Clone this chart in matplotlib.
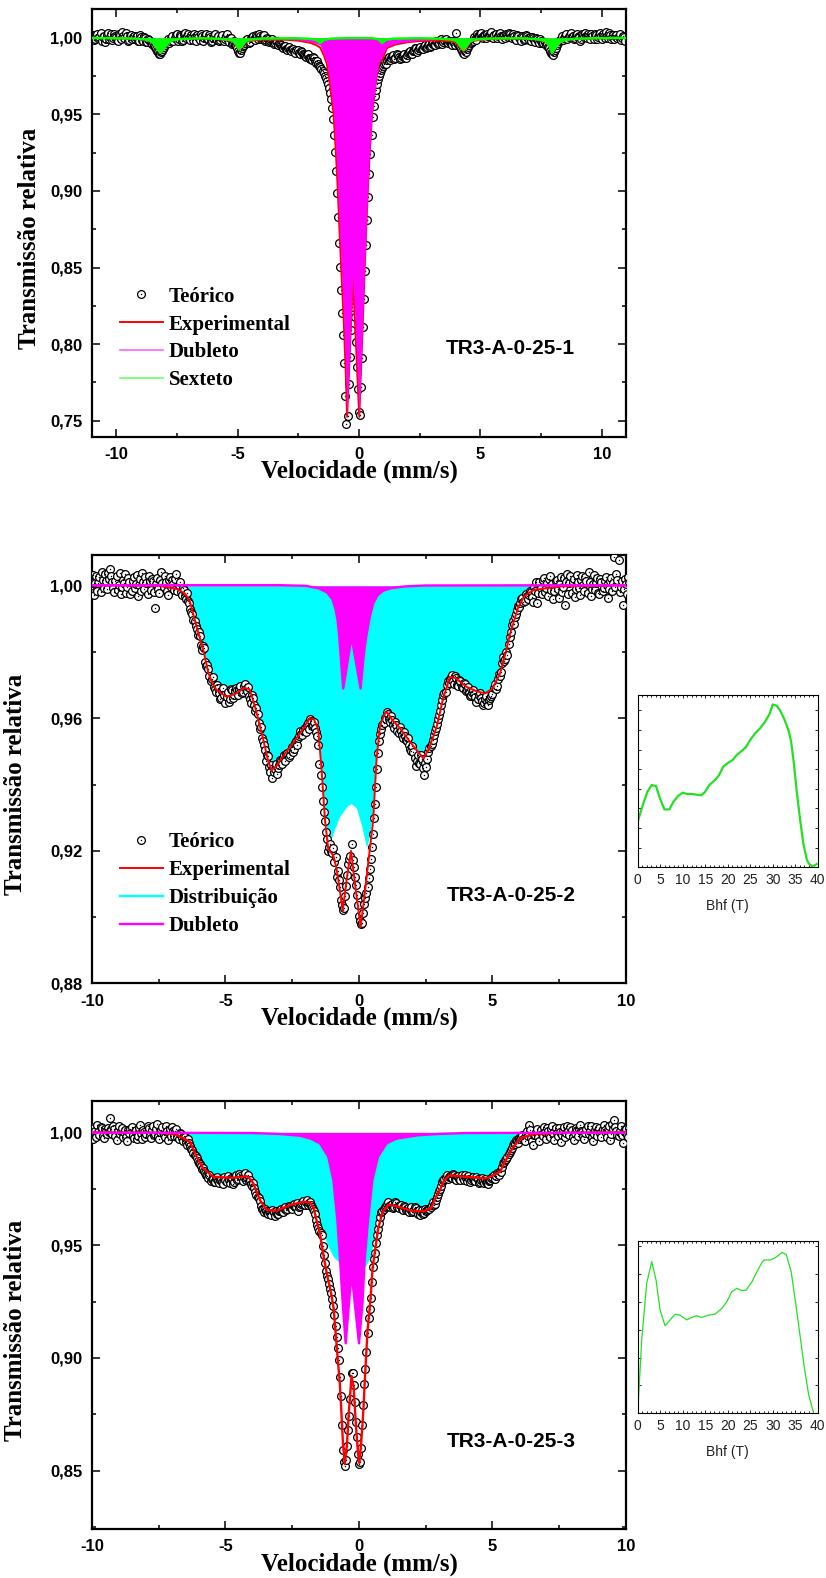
import numpy as np
import matplotlib
matplotlib.use('Agg')
import matplotlib.pyplot as plt
from matplotlib.ticker import MultipleLocator
from matplotlib.font_manager import FontProperties

# ======================= DATA =======================
# ---- Panel 1 : TR3-A-0-25-1 ----
t1 = [1.0018, 0.9982, 0.9989, 1.0019, 1.0025, 0.9995, 1.0004, 1.0028, 0.9978, 1.0001, 1.0012, 0.9973, 0.9992, 1.0016, 1.0031, 0.9990, 1.0007, 1.0024, 0.9985, 0.9998,
      1.0022, 1.0010, 1.0001, 0.9984, 0.9975, 1.0027, 1.0015, 0.9993, 1.0034, 1.0012, 0.9996, 1.0029, 1.0009, 0.9977, 0.9982, 1.0014, 1.0020, 0.9991, 1.0003, 1.0008,
      0.9990, 1.0007, 1.0012, 0.9975, 0.9981, 1.0019, 1.0006, 0.9986, 0.9977, 1.0004, 0.9995, 0.9972, 0.9969, 0.9990, 0.9985, 0.9965, 0.9958, 0.9970, 0.9944, 0.9938,
      0.9925, 0.9912, 0.9908, 0.9893, 0.9896, 0.9909, 0.9915, 0.9928, 0.9941, 0.9950, 0.9962, 0.9975, 0.9988, 0.9968, 0.9979, 0.9995, 1.0010, 0.9981, 0.9996, 1.0015,
      1.0024, 0.9981, 0.9993, 1.0017, 1.0008, 0.9976, 0.9984, 1.0022, 1.0030, 0.9995, 1.0012, 1.0027, 0.9997, 0.9983, 1.0019, 1.0003, 0.9986, 1.0026, 1.0005, 0.9979,
      1.0016, 1.0001, 0.9982, 1.0024, 1.0009, 0.9978, 0.9995, 1.0011, 1.0021, 0.9993, 0.9988, 1.0018, 1.0004, 0.9969, 0.9976, 0.9998, 1.0013, 1.0027, 0.9991, 0.9985,
      1.0009, 0.9975, 0.9983, 1.0004, 1.0018, 0.9979, 0.9990, 1.0012, 1.0025, 0.9989, 0.9972, 0.9998, 0.9995, 0.9961, 0.9966, 0.9978, 0.9952, 0.9944, 0.9930, 0.9911,
      0.9903, 0.9898, 0.9921, 0.9935, 0.9944, 0.9951, 0.9962, 0.9983, 0.9989, 0.9965, 0.9971, 0.9996, 1.0006, 1.0014, 0.9992, 0.9985, 1.0018, 1.0009, 0.9994, 1.0021,
      1.0013, 0.9990, 0.9998, 1.0008, 1.0017, 0.9979, 0.9985, 0.9996, 0.9992, 0.9970, 0.9976, 0.9983, 0.9989, 0.9958, 0.9968, 0.9975, 0.9981, 0.9950, 0.9962, 0.9957,
      0.9952, 0.9940, 0.9931, 0.9945, 0.9947, 0.9928, 0.9922, 0.9934, 0.9938, 0.9919, 0.9915, 0.9926, 0.9929, 0.9911, 0.9903, 0.9917, 0.9921, 0.9900, 0.9895, 0.9912,
      0.9908, 0.9893, 0.9884, 0.9880, 0.9872, 0.9885, 0.9891, 0.9870, 0.9861, 0.9866, 0.9852, 0.9875, 0.9868, 0.9845, 0.9837, 0.9849, 0.9826, 0.9815, 0.9808, 0.9797,
      0.9782, 0.9770, 0.9751, 0.9738, 0.9718, 0.9698, 0.9672, 0.9640, 0.9598, 0.9540, 0.9468, 0.9368, 0.9252, 0.9130, 0.8985, 0.8830, 0.8662, 0.8505, 0.8351, 0.8200,
      0.8062, 0.7880, 0.7660, 0.7480, 0.7530, 0.7740, 0.7918, 0.8090, 0.8241, 0.8340, 0.8290, 0.8180, 0.8012, 0.7850, 0.7705, 0.7560, 0.7540, 0.7720, 0.7908, 0.8110,
      0.8295, 0.8480, 0.8648, 0.8810, 0.8962, 0.9110, 0.9238, 0.9365, 0.9481, 0.9555, 0.9617, 0.9660, 0.9695, 0.9728, 0.9752, 0.9771, 0.9788, 0.9800, 0.9812, 0.9826,
      0.9838, 0.9829, 0.9851, 0.9866, 0.9872, 0.9855, 0.9864, 0.9880, 0.9885, 0.9862, 0.9870, 0.9893, 0.9889, 0.9875, 0.9861, 0.9870, 0.9878, 0.9884, 0.9893, 0.9866,
      0.9870, 0.9889, 0.9902, 0.9908, 0.9915, 0.9893, 0.9896, 0.9912, 0.9921, 0.9930, 0.9935, 0.9907, 0.9918, 0.9935, 0.9942, 0.9925, 0.9929, 0.9946, 0.9951, 0.9934,
      0.9938, 0.9955, 0.9960, 0.9942, 0.9947, 0.9965, 0.9972, 0.9950, 0.9955, 0.9976, 0.9981, 0.9960, 0.9966, 0.9983, 0.9988, 0.9958, 0.9970, 0.9985, 0.9993, 0.9972,
      0.9962, 0.9981, 0.9975, 0.9960, 0.9951, 0.9977, 0.9968, 0.9955, 1.0028, 0.9966, 0.9957, 0.9948, 0.9938, 0.9926, 0.9915, 0.9902, 0.9896, 0.9912, 0.9908, 0.9929,
      0.9938, 0.9951, 0.9962, 0.9970, 0.9979, 1.0002, 0.9993, 0.9985, 1.0021, 1.0011, 1.0008, 1.0026, 1.0032, 1.0005, 0.9996, 1.0020, 1.0015, 0.9998, 1.0027, 1.0009,
      1.0012, 1.0022, 1.0035, 1.0006, 0.9998, 1.0016, 1.0024, 0.9995, 1.0009, 1.0027, 1.0030, 1.0011, 0.9993, 1.0008, 1.0017, 0.9997, 1.0026, 1.0015, 1.0004, 1.0029,
      1.0021, 1.0006, 0.9995, 1.0024, 1.0013, 0.9992, 0.9986, 1.0017, 1.0008, 0.9990, 0.9979, 1.0014, 1.0002, 0.9983, 0.9990, 1.0020, 1.0011, 0.9995, 0.9983, 1.0007,
      0.9978, 1.0004, 0.9996, 0.9983, 0.9970, 0.9999, 0.9988, 0.9976, 0.9965, 0.9990, 0.9979, 0.9968, 0.9962, 0.9972, 0.9951, 0.9958, 0.9940, 0.9932, 0.9915, 0.9902,
      0.9893, 0.9890, 0.9905, 0.9918, 0.9930, 0.9949, 0.9968, 0.9975, 0.9985, 0.9993, 1.0010, 0.9982, 0.9996, 1.0013, 1.0022, 0.9990, 1.0005, 1.0018, 1.0030, 1.0003,
      1.0014, 0.9989, 0.9998, 1.0017, 1.0026, 1.0003, 1.0008, 0.9981, 0.9992, 1.0025, 1.0019, 1.0006, 1.0031, 1.0012, 0.9995, 1.0027, 1.0012, 0.9993, 1.0024, 1.0010,
      0.9993, 1.0025, 1.0016, 0.9990, 1.0003, 1.0019, 1.0028, 1.0009, 0.9989, 1.0022, 1.0011, 0.9996, 1.0035, 1.0014, 0.9997, 1.0028, 1.0020, 0.9988, 1.0006, 1.0017,
      0.9992, 1.0008, 1.0018, 0.9996, 1.0003, 1.0021, 0.9985, 0.9999, 1.0013, 1.0004, 0.9975]
v1 = np.linspace(-10.95, 10.95, len(t1))   # velocity channels

exp1_x = [-11, -9.2, -8.8, -8.6, -8.45, -8.3, -8.19, -8.05, -7.9, -7.7, -7.4, -6.5, -5.8,
          -5.4, -5.2, -5.05, -4.94, -4.8, -4.65, -4.4, -4.0, -3.0, -2.5, -2.0, -1.75, -1.6,
          -1.45, -1.32, -1.18, -1.05, -0.95, -0.88, -0.81, -0.73, -0.63, -0.55, -0.49, -0.25,
          0.01, 0.08, 0.16, 0.23, 0.30, 0.37, 0.44, 0.54, 0.67, 0.81, 0.95, 1.15, 1.5, 2.0,
          2.5, 3.35, 3.8, 4.0, 4.15, 4.31, 4.45, 4.6, 4.85, 5.3, 6.6, 7.2, 7.5, 7.7, 7.85,
          7.95, 8.1, 8.3, 8.5, 8.9, 10, 11]
exp1_y = [0.9997, 0.9993, 0.9987, 0.9979, 0.9959, 0.9924, 0.9901, 0.9924, 0.9959, 0.9981,
          0.9990, 0.9994, 0.9990, 0.9982, 0.9975, 0.9950, 0.9919, 0.9944, 0.9974, 0.9981,
          0.9986, 0.9986, 0.9980, 0.9966, 0.9950, 0.9935, 0.9885, 0.9826, 0.9675, 0.9505,
          0.9243, 0.9026, 0.8765, 0.8483, 0.8156, 0.7829, 0.7525, 0.8440, 0.7525, 0.7829,
          0.8156, 0.8483, 0.8765, 0.9026, 0.9244, 0.9506, 0.9678, 0.9830, 0.9855, 0.9932,
          0.9955, 0.9970, 0.9978, 0.9981, 0.9976, 0.9969, 0.9940, 0.9909, 0.9940, 0.9972,
          0.9983, 0.9989, 0.9993, 0.9989, 0.9982, 0.9972, 0.9942, 0.9898, 0.9933, 0.9973,
          0.9983, 0.9990, 0.9995, 0.9997]

dub1_x = [-11, -6, -4, -3, -2.5, -2.0, -1.6, -1.32, -1.18, -1.05, -0.95, -0.88, -0.81,
          -0.73, -0.63, -0.55, -0.49, -0.25, 0.01, 0.08, 0.16, 0.23, 0.30, 0.37, 0.44, 0.54,
          0.67, 0.81, 1.15, 1.5, 2.0, 2.5, 3.35, 4.5, 6, 11]
dub1_y = [0.9999, 0.9997, 0.9994, 0.9990, 0.9985, 0.9974, 0.9952, 0.9833, 0.9680, 0.9507,
          0.9245, 0.9027, 0.8766, 0.8484, 0.8157, 0.7830, 0.7526, 0.8440, 0.7526, 0.7830,
          0.8157, 0.8484, 0.8766, 0.9027, 0.9245, 0.9507, 0.9680, 0.9833, 0.9941, 0.9962,
          0.9974, 0.9982, 0.9988, 0.9993, 0.9996, 0.9999]

sex1_x = [-11, -9.2, -8.8, -8.6, -8.45, -8.3, -8.19, -8.05, -7.9, -7.7, -7.4, -6.5, -5.8,
          -5.4, -5.2, -5.05, -4.94, -4.8, -4.65, -4.4, -4.0, -2.6, -2.0, -1.75, -1.6, -1.45,
          -1.2, -0.5, 0.5, 0.8, 0.95, 1.1, 1.4, 2.5, 3.4, 3.8, 4.0, 4.15, 4.31, 4.45, 4.6,
          4.85, 5.3, 6.6, 7.2, 7.5, 7.7, 7.85, 7.95, 8.1, 8.3, 8.5, 8.9, 10, 11]
sex1_y = [0.9998, 0.9994, 0.9988, 0.9980, 0.9960, 0.9925, 0.9902, 0.9925, 0.9960, 0.9982,
          0.9991, 0.9996, 0.9993, 0.9987, 0.9980, 0.9955, 0.9924, 0.9950, 0.9980, 0.9988,
          0.9994, 0.9996, 0.9992, 0.9985, 0.9965, 0.9985, 0.9993, 0.9997, 0.9997, 0.9990,
          0.9965, 0.9986, 0.9993, 0.9996, 0.9993, 0.9987, 0.9980, 0.9950, 0.9920, 0.9950,
          0.9980, 0.9988, 0.9994, 0.9996, 0.9992, 0.9985, 0.9975, 0.9945, 0.9900, 0.9935,
          0.9975, 0.9985, 0.9993, 0.9997, 0.9998]

# ---- Panel 2 : TR3-A-0-25-2 ----
t2 = [0.9995, 1.0012, 1.0021, 0.9986, 0.9978, 1.0024, 1.0034, 0.9971, 1.0008, 1.0030, 0.9985, 1.0009, 1.0026, 0.9982, 1.0041, 1.0018, 0.9992, 1.0036, 1.0015, 0.9990,
      1.0038, 1.0020, 1.0052, 1.0031, 1.0010, 0.9993, 0.9981, 1.0015, 1.0029, 0.9988, 1.0003, 1.0040, 0.9974, 0.9997, 1.0018, 1.0008, 1.0035, 0.9979, 0.9996, 1.0025,
      1.0012, 0.9975, 0.9983, 1.0016, 1.0027, 0.9994, 1.0006, 1.0033, 0.9969, 1.0002, 1.0020, 0.9984, 1.0039, 1.0011, 0.9990, 1.0028, 1.0008, 0.9976, 1.0031, 1.0014,
      0.9986, 1.0022, 1.0015, 0.9980, 0.9932, 1.0005, 1.0024, 0.9991, 0.9978, 1.0017, 1.0043, 1.0009, 0.9995, 1.0030, 1.0011, 0.9985, 0.9972, 1.0019, 1.0028, 0.9997,
      1.0017, 1.0004, 0.9988, 1.0021, 1.0036, 0.9985, 1.0002, 1.0010, 0.9981, 0.9973, 0.9993, 0.9988, 0.9968, 0.9960, 0.9979, 0.9954, 0.9948, 0.9931, 0.9922, 0.9915,
      0.9897, 0.9893, 0.9880, 0.9869, 0.9851, 0.9862, 0.9849, 0.9822, 0.9805, 0.9818, 0.9812, 0.9771, 0.9758, 0.9762, 0.9749, 0.9728, 0.9712, 0.9718, 0.9724, 0.9693,
      0.9688, 0.9679, 0.9702, 0.9691, 0.9675, 0.9658, 0.9661, 0.9682, 0.9690, 0.9670, 0.9645, 0.9663, 0.9678, 0.9650, 0.9657, 0.9689, 0.9684, 0.9662, 0.9669, 0.9681,
      0.9692, 0.9684, 0.9671, 0.9689, 0.9699, 0.9676, 0.9680, 0.9697, 0.9705, 0.9687, 0.9683, 0.9694, 0.9668, 0.9659, 0.9645, 0.9670, 0.9661, 0.9641, 0.9622, 0.9630,
      0.9612, 0.9585, 0.9568, 0.9575, 0.9540, 0.9531, 0.9519, 0.9503, 0.9472, 0.9490, 0.9485, 0.9452, 0.9438, 0.9460, 0.9421, 0.9438, 0.9446, 0.9462, 0.9432, 0.9450,
      0.9458, 0.9475, 0.9472, 0.9462, 0.9481, 0.9490, 0.9470, 0.9493, 0.9496, 0.9482, 0.9489, 0.9505, 0.9514, 0.9498, 0.9507, 0.9525, 0.9530, 0.9519, 0.9541, 0.9546,
      0.9562, 0.9553, 0.9549, 0.9566, 0.9571, 0.9559, 0.9580, 0.9586, 0.9568, 0.9599, 0.9593, 0.9578, 0.9580, 0.9590, 0.9571, 0.9560, 0.9548, 0.9518, 0.9462, 0.9430,
      0.9392, 0.9350, 0.9318, 0.9290, 0.9258, 0.9235, 0.9198, 0.9212, 0.9221, 0.9200, 0.9193, 0.9208, 0.9166, 0.9180, 0.9122, 0.9140, 0.9112, 0.9090, 0.9051, 0.9035,
      0.9020, 0.9028, 0.9063, 0.9095, 0.9128, 0.9160, 0.9176, 0.9185, 0.9220, 0.9172, 0.9150, 0.9120, 0.9098, 0.9068, 0.9035, 0.9002, 0.8988, 0.8980, 0.8982, 0.9012,
      0.9038, 0.9058, 0.9072, 0.9090, 0.9118, 0.9145, 0.9175, 0.9210, 0.9252, 0.9300, 0.9340, 0.9392, 0.9446, 0.9495, 0.9532, 0.9552, 0.9568, 0.9580, 0.9585, 0.9602,
      0.9598, 0.9620, 0.9612, 0.9597, 0.9589, 0.9608, 0.9595, 0.9579, 0.9571, 0.9590, 0.9580, 0.9562, 0.9556, 0.9575, 0.9563, 0.9549, 0.9541, 0.9558, 0.9548, 0.9536,
      0.9531, 0.9540, 0.9519, 0.9508, 0.9502, 0.9515, 0.9497, 0.9480, 0.9455, 0.9472, 0.9488, 0.9466, 0.9461, 0.9490, 0.9476, 0.9449, 0.9428, 0.9465, 0.9452, 0.9478,
      0.9498, 0.9509, 0.9515, 0.9522, 0.9534, 0.9551, 0.9562, 0.9570, 0.9583, 0.9598, 0.9610, 0.9622, 0.9641, 0.9655, 0.9669, 0.9677, 0.9680, 0.9701, 0.9712, 0.9708,
      0.9718, 0.9726, 0.9731, 0.9712, 0.9705, 0.9728, 0.9722, 0.9701, 0.9698, 0.9716, 0.9712, 0.9693, 0.9690, 0.9708, 0.9704, 0.9681, 0.9684, 0.9695, 0.9679, 0.9668,
      0.9671, 0.9680, 0.9686, 0.9672, 0.9665, 0.9650, 0.9658, 0.9670, 0.9676, 0.9661, 0.9652, 0.9640, 0.9645, 0.9659, 0.9668, 0.9648, 0.9641, 0.9655, 0.9660, 0.9667,
      0.9672, 0.9690, 0.9705, 0.9688, 0.9698, 0.9720, 0.9735, 0.9728, 0.9741, 0.9768, 0.9786, 0.9772, 0.9779, 0.9801, 0.9790, 0.9825, 0.9845, 0.9860, 0.9882, 0.9893,
      0.9886, 0.9905, 0.9915, 0.9928, 0.9940, 0.9937, 0.9948, 0.9960, 0.9962, 0.9951, 0.9955, 0.9975, 0.9968, 0.9960, 0.9971, 0.9983, 0.9980, 0.9966, 0.9952, 0.9995,
      0.9985, 1.0012, 0.9947, 0.9978, 1.0010, 0.9993, 0.9975, 1.0018, 1.0024, 0.9981, 0.9992, 1.0009, 0.9968, 1.0022, 1.0031, 0.9987, 1.0005, 0.9961, 0.9983, 1.0014,
      1.0018, 0.9989, 0.9964, 1.0005, 1.0027, 0.9980, 0.9996, 1.0023, 0.9942, 1.0012, 1.0037, 0.9974, 1.0008, 1.0029, 0.9978, 1.0010, 1.0021, 0.9967, 0.9990, 1.0033,
      1.0012, 0.9994, 0.9972, 1.0019, 1.0030, 1.0001, 0.9985, 1.0026, 1.0015, 0.9977, 1.0042, 1.0011, 0.9969, 0.9990, 1.0004, 1.0032, 0.9988, 1.0007, 1.0023, 0.9979,
      0.9976, 1.0020, 1.0011, 0.9985, 0.9994, 1.0015, 1.0027, 1.0003, 0.9962, 0.9990, 1.0016, 1.0025, 0.9983, 1.0009, 1.0088, 0.9996, 1.0035, 1.0018, 1.0078, 0.9981,
      0.9997, 1.0013, 0.9942, 0.9990, 1.0021, 1.0004, 0.9975, 1.0027, 1.0009, 0.9968, 0.9986]
v2 = np.linspace(-10.2, 10.2, len(t2))

exp2_x = [-10.5, -7.5, -6.8, -6.5, -6.33, -6.08, -5.83, -5.64, -5.45, -5.33, -4.96, -4.6,
          -4.3, -4.1, -3.95, -3.83, -3.58, -3.40, -3.27, -3.10, -2.9, -2.58, -2.21, -1.84,
          -1.70, -1.59, -1.52, -1.40, -1.27, -1.15, -1.05, -0.96, -0.85, -0.77, -0.61, -0.45,
          -0.30, -0.15, 0.06, 0.20, 0.34, 0.53, 0.66, 0.79, 0.97, 1.05, 1.25, 1.54, 1.9, 2.2,
          2.41, 2.6, 2.91, 3.15, 3.41, 3.6, 4.03, 4.4, 4.72, 5.0, 5.28, 5.5, 5.66, 5.97, 6.2,
          6.53, 7.5, 10.5]
exp2_y = [1.0002, 1.0000, 0.9990, 0.9975, 0.9952, 0.9876, 0.9806, 0.9736, 0.9700, 0.9685,
          0.9665, 0.9675, 0.9692, 0.9688, 0.9650, 0.9615, 0.9534, 0.9470, 0.9444, 0.9455,
          0.9480, 0.9514, 0.9554, 0.9600, 0.9598, 0.9580, 0.9560, 0.9443, 0.9290, 0.9205,
          0.9195, 0.9185, 0.9150, 0.9110, 0.9020, 0.9120, 0.9200, 0.9100, 0.8970, 0.9060,
          0.9160, 0.9290, 0.9480, 0.9580, 0.9615, 0.9618, 0.9595, 0.9570, 0.9530, 0.9500,
          0.9479, 0.9505, 0.9574, 0.9660, 0.9725, 0.9722, 0.9695, 0.9682, 0.9675, 0.9690,
          0.9735, 0.9800, 0.9856, 0.9937, 0.9970, 0.9987, 0.9998, 1.0002]

dist2_x = [-10.5, -7.5, -6.8, -6.5, -6.33, -6.08, -5.83, -5.64, -5.45, -5.33, -4.96, -4.6,
           -4.3, -4.1, -3.95, -3.83, -3.58, -3.40, -3.27, -3.10, -2.9, -2.58, -2.21, -1.84,
           -1.70, -1.59, -1.52, -1.40, -1.27, -1.15, -1.02, -0.75, -0.45, -0.30, -0.10, 0.10,
           0.28, 0.40, 0.53, 0.66, 0.79, 0.97, 1.05, 1.25, 1.54, 1.9, 2.2, 2.41, 2.6, 2.91,
           3.15, 3.41, 3.6, 4.03, 4.4, 4.72, 5.0, 5.28, 5.5, 5.66, 5.97, 6.2, 6.53, 7.5, 10.5]
dist2_y = [1.0002, 1.0000, 0.9990, 0.9976, 0.9953, 0.9877, 0.9807, 0.9737, 0.9701, 0.9686,
           0.9666, 0.9676, 0.9693, 0.9689, 0.9651, 0.9616, 0.9535, 0.9471, 0.9445, 0.9456,
           0.9481, 0.9515, 0.9555, 0.9601, 0.9599, 0.9582, 0.9563, 0.9450, 0.9300, 0.9235,
           0.9242, 0.9300, 0.9335, 0.9343, 0.9330, 0.9275, 0.9210, 0.9245, 0.9330, 0.9490,
           0.9585, 0.9618, 0.9620, 0.9597, 0.9572, 0.9532, 0.9502, 0.9481, 0.9507, 0.9576,
           0.9662, 0.9727, 0.9724, 0.9697, 0.9684, 0.9677, 0.9692, 0.9737, 0.9802, 0.9858,
           0.9939, 0.9972, 0.9989, 0.9999, 1.0002]

dub2_x = [-10.5, -3.0, -2.0, -1.5, -1.2, -1.0, -0.88, -0.80, -0.74, -0.66, -0.59, -0.28,
          0.06, 0.15, 0.22, 0.30, 0.40, 0.53, 0.70, 0.90, 1.2, 1.7, 2.5, 10.5]
dub2_y = [1.0002, 1.0002, 1.0000, 0.9992, 0.9980, 0.9960, 0.9930, 0.9895, 0.9846, 0.9760,
          0.9690, 0.9846, 0.9690, 0.9770, 0.9820, 0.9860, 0.9905, 0.9947, 0.9972, 0.9985,
          0.9993, 0.9998, 1.0001, 1.0002]

bhf2_b = [0, 1.26, 2.15, 3.11, 4.07, 4.96, 5.93, 7.04, 7.93, 9.04, 10.0, 10.9, 12.0, 13.1,
          14.1, 15.0, 15.9, 17.2, 18.1, 19.0, 20.1, 21.1, 22.0, 23.1, 24.0, 25.0, 26.1, 27.2,
          28.3, 29.3, 30.0, 30.9, 31.6, 32.5, 33.5, 34.1, 34.7, 35.3, 36.1, 36.8, 37.6, 38.1,
          38.9, 39.8]
bhf2_p = [2.33, 3.26, 3.85, 4.19, 4.14, 3.51, 2.95, 2.95, 3.34, 3.65, 3.80, 3.74, 3.74, 3.70,
          3.67, 3.85, 4.19, 4.45, 4.70, 5.13, 5.33, 5.47, 5.72, 5.93, 6.11, 6.49, 6.83, 7.08,
          7.42, 7.81, 8.30, 8.23, 8.01, 7.59, 7.00, 6.40, 5.30, 3.94, 2.41, 1.22, 0.37, 0.17,
          0.03, 0.17]

# ---- Panel 3 : TR3-A-0-25-3 ----
t3 = [1.0012, 0.9994, 0.9983, 1.0009, 1.0025, 0.9988, 0.9971, 1.0020, 1.0008, 0.9979, 1.0031, 1.0002, 0.9990, 1.0024, 1.0018, 0.9986, 0.9975, 1.0013, 1.0006, 0.9991,
      1.0021, 1.0003, 1.0064, 1.0017, 0.9993, 1.0028, 1.0015, 0.9985, 0.9968, 1.0006, 1.0027, 0.9992, 1.0004, 1.0019, 0.9981, 1.0000, 1.0012, 0.9979, 0.9962, 1.0010,
      0.9998, 1.0015, 1.0024, 0.9989, 0.9975, 1.0007, 1.0010, 0.9972, 0.9986, 1.0021, 1.0033, 0.9995, 0.9969, 1.0012, 1.0003, 0.9980, 0.9991, 1.0026, 1.0019, 0.9984,
      0.9977, 1.0011, 1.0028, 0.9990, 0.9994, 1.0016, 1.0035, 0.9983, 0.9972, 1.0002, 1.0009, 1.0024, 0.9988, 0.9978, 1.0026, 1.0005, 0.9965, 0.9997, 1.0013, 0.9986,
      1.0022, 1.0004, 0.9985, 1.0008, 1.0016, 0.9981, 0.9970, 0.9995, 0.9993, 0.9974, 0.9962, 0.9983, 0.9978, 0.9958, 0.9945, 0.9970, 0.9951, 0.9939, 0.9928, 0.9920,
      0.9908, 0.9899, 0.9895, 0.9885, 0.9872, 0.9866, 0.9861, 0.9850, 0.9838, 0.9841, 0.9830, 0.9819, 0.9812, 0.9805, 0.9798, 0.9810, 0.9786, 0.9795, 0.9792, 0.9780,
      0.9781, 0.9796, 0.9802, 0.9785, 0.9776, 0.9790, 0.9795, 0.9779, 0.9770, 0.9801, 0.9788, 0.9778, 0.9806, 0.9789, 0.9774, 0.9799, 0.9792, 0.9772, 0.9781, 0.9800,
      0.9812, 0.9790, 0.9795, 0.9815, 0.9808, 0.9799, 0.9786, 0.9803, 0.9818, 0.9791, 0.9797, 0.9810, 0.9784, 0.9788, 0.9772, 0.9761, 0.9775, 0.9752, 0.9735, 0.9722,
      0.9712, 0.9708, 0.9695, 0.9672, 0.9661, 0.9659, 0.9648, 0.9660, 0.9652, 0.9641, 0.9636, 0.9650, 0.9641, 0.9632, 0.9658, 0.9645, 0.9629, 0.9651, 0.9640, 0.9637,
      0.9650, 0.9658, 0.9662, 0.9645, 0.9648, 0.9666, 0.9670, 0.9655, 0.9659, 0.9672, 0.9675, 0.9664, 0.9660, 0.9678, 0.9681, 0.9670, 0.9667, 0.9686, 0.9652, 0.9669,
      0.9672, 0.9681, 0.9688, 0.9695, 0.9679, 0.9690, 0.9702, 0.9678, 0.9685, 0.9692, 0.9676, 0.9670, 0.9661, 0.9652, 0.9638, 0.9612, 0.9589, 0.9578, 0.9562, 0.9556,
      0.9545, 0.9498, 0.9455, 0.9420, 0.9385, 0.9362, 0.9348, 0.9330, 0.9305, 0.9290, 0.9262, 0.9230, 0.9190, 0.9140, 0.9092, 0.9045, 0.8990, 0.8915, 0.8830, 0.8705,
      0.8592, 0.8540, 0.8522, 0.8550, 0.8612, 0.8680, 0.8745, 0.8820, 0.8932, 0.8935, 0.8880, 0.8805, 0.8718, 0.8650, 0.8575, 0.8530, 0.8538, 0.8600, 0.8702, 0.8790,
      0.8885, 0.8950, 0.9025, 0.9110, 0.9175, 0.9215, 0.9268, 0.9335, 0.9405, 0.9440, 0.9466, 0.9510, 0.9545, 0.9570, 0.9598, 0.9625, 0.9645, 0.9650, 0.9662, 0.9671,
      0.9675, 0.9684, 0.9690, 0.9672, 0.9668, 0.9680, 0.9682, 0.9665, 0.9671, 0.9692, 0.9687, 0.9670, 0.9664, 0.9679, 0.9676, 0.9662, 0.9655, 0.9675, 0.9669, 0.9658,
      0.9660, 0.9666, 0.9648, 0.9659, 0.9671, 0.9645, 0.9652, 0.9668, 0.9663, 0.9650, 0.9640, 0.9655, 0.9633, 0.9646, 0.9657, 0.9638, 0.9642, 0.9661, 0.9650, 0.9657,
      0.9662, 0.9659, 0.9671, 0.9680, 0.9690, 0.9677, 0.9682, 0.9702, 0.9715, 0.9728, 0.9742, 0.9750, 0.9761, 0.9778, 0.9789, 0.9792, 0.9801, 0.9809, 0.9795, 0.9804,
      0.9808, 0.9800, 0.9796, 0.9815, 0.9812, 0.9793, 0.9791, 0.9808, 0.9805, 0.9795, 0.9788, 0.9811, 0.9799, 0.9790, 0.9810, 0.9798, 0.9786, 0.9806, 0.9794, 0.9782,
      0.9790, 0.9798, 0.9803, 0.9787, 0.9785, 0.9800, 0.9792, 0.9776, 0.9779, 0.9790, 0.9796, 0.9783, 0.9774, 0.9792, 0.9781, 0.9776, 0.9770, 0.9785, 0.9789, 0.9797,
      0.9803, 0.9810, 0.9795, 0.9806, 0.9818, 0.9815, 0.9812, 0.9830, 0.9826, 0.9845, 0.9864, 0.9870, 0.9877, 0.9880, 0.9889, 0.9903, 0.9912, 0.9920, 0.9929, 0.9942,
      0.9955, 0.9948, 0.9967, 0.9962, 0.9951, 0.9975, 0.9972, 0.9981, 0.9988, 0.9970, 0.9963, 0.9995, 1.0008, 0.9985, 1.0032, 1.0010, 0.9976, 0.9960, 0.9944, 0.9990,
      0.9987, 1.0003, 1.0015, 0.9979, 0.9961, 1.0010, 0.9993, 0.9984, 1.0024, 1.0002, 0.9972, 1.0018, 1.0006, 0.9990, 0.9981, 1.0013, 1.0030, 0.9995, 0.9968, 1.0021,
      0.9995, 0.9982, 1.0019, 1.0001, 0.9957, 0.9988, 1.0008, 1.0022, 0.9979, 0.9997, 1.0027, 1.0006, 0.9990, 1.0025, 1.0012, 0.9978, 0.9964, 0.9998, 1.0021, 1.0009,
      0.9983, 1.0015, 1.0034, 1.0008, 1.0002, 0.9985, 0.9972, 0.9999, 1.0016, 1.0027, 0.9991, 1.0004, 1.0026, 0.9980, 0.9960, 0.9993, 1.0009, 1.0022, 0.9985, 1.0011,
      1.0020, 0.9997, 0.9978, 1.0014, 1.0031, 1.0010, 0.9996, 0.9981, 1.0012, 1.0026, 0.9966, 0.9993, 1.0038, 1.0017, 1.0055, 1.0023, 1.0004, 0.9990, 0.9982, 1.0008,
      1.0027, 0.9988, 0.9952, 1.0004, 1.0013, 1.0016, 0.9989, 0.9978, 1.0021, 1.0002, 0.9970]
v3 = np.linspace(-10.2, 10.2, len(t3))

exp3_x = [-10.5, -7.5, -6.9, -6.6, -6.33, -6.08, -5.83, -5.46, -5.0, -4.71, -4.21, -4.05,
          -3.96, -3.71, -3.46, -3.09, -2.58, -2.09, -1.84, -1.70, -1.59, -1.46, -1.34, -1.20,
          -1.05, -0.95, -0.88, -0.80, -0.72, -0.66, -0.60, -0.53, -0.45, -0.38, -0.28, -0.20,
          -0.12, -0.04, 0.01, 0.08, 0.16, 0.23, 0.32, 0.43, 0.51, 0.63, 0.71, 0.88, 1.10,
          1.54, 2.04, 2.47, 2.70, 2.91, 3.03, 3.20, 3.41, 4.03, 4.78, 5.28, 5.66, 6.03, 6.53,
          7.5, 10.5]
exp3_y = [1.0000, 0.9998, 0.9992, 0.9975, 0.9958, 0.9892, 0.9840, 0.9803, 0.9800, 0.9799,
          0.9806, 0.9790, 0.9774, 0.9700, 0.9656, 0.9653, 0.9678, 0.9692, 0.9690, 0.9665,
          0.9611, 0.9550, 0.9460, 0.9370, 0.9290, 0.9220, 0.9120, 0.9000, 0.8890, 0.8760,
          0.8620, 0.8530, 0.8620, 0.8760, 0.8920, 0.8870, 0.8710, 0.8580, 0.8535, 0.8620,
          0.8760, 0.8930, 0.9120, 0.9260, 0.9400, 0.9500, 0.9570, 0.9645, 0.9680, 0.9668,
          0.9650, 0.9652, 0.9665, 0.9720, 0.9744, 0.9790, 0.9810, 0.9803, 0.9796, 0.9825,
          0.9914, 0.9973, 0.9992, 0.9998, 1.0000]

dist3_x = [-10.5, -7.5, -6.9, -6.6, -6.33, -6.08, -5.83, -5.46, -5.0, -4.71, -4.21, -4.05,
           -3.96, -3.71, -3.46, -3.09, -2.58, -2.09, -1.84, -1.70, -1.59, -1.40, -1.15, -0.96,
           -0.73, -0.50, -0.25, 0.0, 0.23, 0.43, 0.62, 0.81, 1.0, 1.15, 1.40, 1.91, 2.47,
           2.78, 3.03, 3.41, 4.03, 4.78, 5.28, 5.66, 6.03, 6.53, 7.5, 10.5]
dist3_y = [1.0000, 0.9999, 0.9993, 0.9977, 0.9960, 0.9894, 0.9842, 0.9805, 0.9802, 0.9801,
           0.9808, 0.9792, 0.9776, 0.9702, 0.9658, 0.9655, 0.9680, 0.9694, 0.9692, 0.9668,
           0.9615, 0.9567, 0.9493, 0.9449, 0.9422, 0.9410, 0.9405, 0.9400, 0.9404, 0.9449,
           0.9567, 0.9656, 0.9680, 0.9683, 0.9688, 0.9673, 0.9659, 0.9688, 0.9747, 0.9812,
           0.9805, 0.9798, 0.9827, 0.9916, 0.9975, 0.9993, 0.9999, 1.0000]

dub3_x = [-10.5, -4.0, -3.0, -2.2, -1.8, -1.46, -1.15, -0.96, -0.81, -0.71, -0.61, -0.50,
          -0.28, 0.0, 0.13, 0.21, 0.34, 0.50, 0.71, 1.03, 1.4, 2.2, 3.0, 4.0, 10.5]
dub3_y = [0.9999, 0.9997, 0.9993, 0.9985, 0.9972, 0.9951, 0.9892, 0.9789, 0.9611, 0.9434,
          0.9242, 0.9065, 0.9378, 0.9065, 0.9242, 0.9434, 0.9611, 0.9789, 0.9892, 0.9951,
          0.9972, 0.9987, 0.9993, 0.9997, 0.9999]

bhf3_b = [0, 0.89, 2.0, 3.12, 4.08, 4.97, 6.09, 7.20, 8.31, 9.42, 10.9, 12.0, 13.1, 14.2,
          15.7, 17.2, 18.7, 19.8, 20.9, 22.0, 23.2, 24.1, 25.4, 26.5, 27.6, 28.1, 29.5, 30.6,
          32.1, 33.0, 34.1, 35.0, 36.0, 37.0, 38.0, 39.1]
bhf3_p = [0.0, 2.63, 4.66, 5.44, 4.78, 3.70, 3.14, 3.35, 3.55, 3.52, 3.35, 3.44, 3.50, 3.44,
          3.52, 3.56, 3.76, 4.00, 4.36, 4.48, 4.40, 4.42, 4.72, 5.08, 5.41, 5.50, 5.50, 5.58,
          5.77, 5.70, 5.08, 4.06, 2.87, 1.67, 0.66, 0.0]

# ---- Ticks / labels ----
x_ticks = [-10, -5, 0, 5, 10]
x_ticklabels = ['-10', '-5', '0', '5', '10']
y_ticks1 = [0.75, 0.80, 0.85, 0.90, 0.95, 1.00]
y_ticklabels1 = ['0,75', '0,80', '0,85', '0,90', '0,95', '1,00']
y_ticks2 = [0.88, 0.92, 0.96, 1.00]
y_ticklabels2 = ['0,88', '0,92', '0,96', '1,00']
y_ticks3 = [0.85, 0.90, 0.95, 1.00]
y_ticklabels3 = ['0,85', '0,90', '0,95', '1,00']
bhf_ticks = [0, 5, 10, 15, 20, 25, 30, 35, 40]

# ======================= STYLE =======================
SANS = 'Liberation Sans'
SERIF = 'Liberation Serif'
RED, MAG, CYA, GRN, IGRN = '#ff0000', '#ff00ff', '#00ffff', '#00ff00', '#22e022'
BASE = 1.0

fig = plt.figure(figsize=(8.26, 15.78), dpi=100)
W, H = 826.0, 1578.0


def add_ax(left, top, right, bottom):
    return fig.add_axes([left / W, 1 - bottom / H, (right - left) / W, (bottom - top) / H])


def style_main(ax, xlim, ylim, yt, ytl, ymin, ylab_x):
    ax.set_xlim(*xlim)
    ax.set_ylim(*ylim)
    ax.set_xticks(x_ticks, labels=x_ticklabels)
    ax.set_yticks(yt, labels=ytl)
    ax.xaxis.set_minor_locator(MultipleLocator(2.5))
    ax.yaxis.set_minor_locator(MultipleLocator(ymin))
    ax.tick_params(which='both', direction='in', top=True, right=True, width=1.1,
                   colors='black')
    ax.tick_params(which='major', length=5.5)
    ax.tick_params(which='minor', length=3.2)
    ax.tick_params(axis='x', pad=7.5)
    ax.tick_params(axis='y', pad=7)
    for sp in ax.spines.values():
        sp.set_linewidth(1.6)
    for lb in ax.get_xticklabels() + ax.get_yticklabels():
        lb.set_fontfamily(SANS)
        lb.set_fontweight('bold')
        lb.set_fontsize(12)
    ax.set_xlabel('Velocidade (mm/s)', fontfamily=SERIF, fontweight='bold', fontsize=18,
                  va='center')
    ax.xaxis.set_label_coords(0.5, -0.082)
    ax.set_ylabel('Transmissão relativa', fontfamily=SERIF, fontweight='bold', fontsize=18,
                  va='center')
    ax.yaxis.set_label_coords(ylab_x, 0.465)


def scatter(ax, x, y, z):
    c = ax.plot(x, y, ls='none', marker='o', ms=5.6, mfc='white', mec='black', mew=0.9,
                zorder=z)[0]
    d = ax.plot(x, y, ls='none', marker='o', ms=1.0, mfc='black', mec='black', mew=0,
                zorder=z + 0.1)[0]
    return (c, d)


def style_inset(ax, ytop):
    ax.set_xlim(0, 40)
    ax.set_ylim(0, ytop)
    ax.set_xticks(bhf_ticks)
    ax.xaxis.set_minor_locator(MultipleLocator(1))
    ax.yaxis.set_major_locator(MultipleLocator(1))
    ax.tick_params(which='both', direction='in', top=True, right=True, labelleft=False,
                   width=0.6)
    ax.tick_params(which='major', length=2.5)
    ax.tick_params(which='minor', length=1.2)
    ax.tick_params(axis='x', labelsize=10, pad=4, labelcolor='#222222')
    for lb in ax.get_xticklabels():
        lb.set_fontfamily(SANS)
    for sp in ax.spines.values():
        sp.set_linewidth(0.8)
    ax.set_xlabel('Bhf (T)', fontfamily=SANS, fontsize=10, color='#222222', va='center')
    ax.xaxis.set_label_coords(0.5, -0.225)


leg_prop = FontProperties(family=SERIF, weight='bold', size=15)

# ---------------- Panel 1 ----------------
ax1 = add_ax(92, 9.3, 626, 436.7)
h_sc1 = scatter(ax1, v1, t1, 2)
h_ex1, = ax1.plot(exp1_x, exp1_y, color=RED, lw=1.4, zorder=3)
ax1.fill_between(dub1_x, BASE, dub1_y, color=MAG, lw=0, zorder=4)
ax1.fill_between(sex1_x, BASE, sex1_y, color=GRN, lw=0, zorder=5)
ax1.plot(sex1_x, sex1_y, color=GRN, lw=1.8, zorder=5)
style_main(ax1, (-11, 11), (0.7396, 1.0185), y_ticks1, y_ticklabels1, 0.025, -0.1174)
h_d1 = plt.Line2D([], [], color=MAG, lw=1.2, alpha=0.6)
h_s1 = plt.Line2D([], [], color=GRN, lw=1.2, alpha=0.6)
ax1.legend([h_sc1, h_ex1, h_d1, h_s1], ['Teórico', 'Experimental', 'Dubleto', 'Sexteto'],
           loc='upper left', bbox_to_anchor=(0.0524, 0.3512), borderaxespad=0, borderpad=0,
           handlelength=2.06, handletextpad=0.29, labelspacing=0.38, frameon=False,
           prop=leg_prop)
ax1.text(0.783, 0.2056, 'TR3-A-0-25-1', transform=ax1.transAxes, ha='center', va='center',
         fontfamily=SANS, fontweight='bold', fontsize=15)

# ---------------- Panel 2 ----------------
ax2 = add_ax(92, 555, 626, 983.3)
ax2.fill_between(dist2_x, BASE, dist2_y, color=CYA, lw=0, zorder=2)
h_sc2 = scatter(ax2, v2, t2, 3)
h_ex2, = ax2.plot(exp2_x, exp2_y, color=RED, lw=1.4, zorder=4)
ax2.fill_between(dub2_x, BASE, dub2_y, color=MAG, lw=0, zorder=5)
h_d2, = ax2.plot(dub2_x, dub2_y, color=MAG, lw=1.7, zorder=5)
style_main(ax2, (-10, 10), (0.88, 1.0093), y_ticks2, y_ticklabels2, 0.02, -0.1438)
h_c2 = plt.Line2D([], [], color=CYA, lw=1.7)
ax2.legend([h_sc2, h_ex2, h_c2, h_d2], ['Teórico', 'Experimental', 'Distribuição', 'Dubleto'],
           loc='upper left', bbox_to_anchor=(0.0524, 0.3526), borderaxespad=0, borderpad=0,
           handlelength=2.06, handletextpad=0.29, labelspacing=0.38, frameon=False,
           prop=leg_prop)
ax2.text(0.785, 0.206, 'TR3-A-0-25-2', transform=ax2.transAxes, ha='center', va='center',
         fontfamily=SANS, fontweight='bold', fontsize=15)

ins2 = add_ax(637.7, 695.0, 817.7, 867.3)
ins2.plot(bhf2_b, bhf2_p, color=IGRN, lw=1.6)
style_inset(ins2, 8.78)

# ---------------- Panel 3 ----------------
ax3 = add_ax(92, 1101, 626, 1529)
ax3.fill_between(dist3_x, BASE, dist3_y, color=CYA, lw=0, zorder=2)
scatter(ax3, v3, t3, 3)
ax3.plot(exp3_x, exp3_y, color=RED, lw=1.7, zorder=4)
ax3.fill_between(dub3_x, BASE, dub3_y, color=MAG, lw=0, zorder=5)
ax3.plot(dub3_x, dub3_y, color=MAG, lw=1.7, zorder=5)
style_main(ax3, (-10, 10), (0.8242, 1.0139), y_ticks3, y_ticklabels3, 0.025, -0.1438)
ax3.text(0.785, 0.2056, 'TR3-A-0-25-3', transform=ax3.transAxes, ha='center', va='center',
         fontfamily=SANS, fontweight='bold', fontsize=15)

ins3 = add_ax(637.7, 1241, 817.7, 1413.3)
ins3.plot(bhf3_b, bhf3_p, color=IGRN, lw=0.9)
style_inset(ins3, 6.18)

fig.savefig('out.png', dpi=100)
